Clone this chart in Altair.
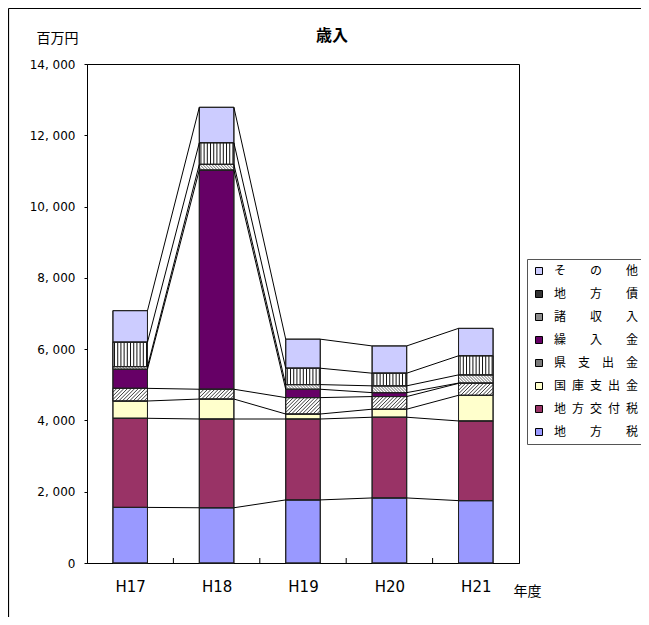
import altair as alt
import numpy as np
import pandas as pd

# ---- data (百万円) ----
chart_title = "歳入"
years = ["H17", "H18", "H19", "H20", "H21"]
series = ["地方税", "地方交付税", "国庫支出金", "県支出金", "繰入金", "諸収入", "地方債", "その他"]  # bottom -> top
chihozei = [1560, 1550, 1770, 1825, 1750]
kofuzei = [2500, 2490, 2270, 2265, 2235]
kokko = [485, 560, 140, 225, 720]
ken = [355, 275, 460, 355, 335]
kurire = [535, 6150, 235, 110, 8]
shoshu = [75, 160, 130, 190, 230]
chihosai = [685, 605, 460, 355, 535]
sonota = [885, 995, 815, 765, 770]
values = [chihozei, kofuzei, kokko, ken, kurire, shoshu, chihosai, sonota]

legend_order = ["その他", "地方債", "諸収入", "繰入金", "県支出金", "国庫支出金", "地方交付税", "地方税"]
legend_colors = ["#ccccff", "#333333", "#8c8c8c", "#660066", "#7a7a7a", "#ffffcc", "#993366", "#9999ff"]
S3 = "\u3000\u3000"
S4 = "\u3000"
S5 = "\u2002"
legend_text = ["そ" + S3 + "の" + S3 + "他", "地" + S3 + "方" + S3 + "債", "諸" + S3 + "収" + S3 + "入",
               "繰" + S3 + "入" + S3 + "金", "県" + S4 + "支" + S4 + "出" + S4 + "金",
               "国" + S5 + "庫" + S5 + "支" + S5 + "出" + S5 + "金",
               "地" + S5 + "方" + S5 + "交" + S5 + "付" + S5 + "税", "地" + S3 + "方" + S3 + "税"]
hatch_kind = {"県支出金": "/", "諸収入": "\\", "地方債": "|"}

W, H = 432, 499
YMAX = 14000
HALF = 0.2
kx = W / 5.0
ky = H / YMAX

# ---- stacked table ----
rows = []
cum = np.zeros(len(years))
for s, vals in zip(series, values):
    v = np.array(vals, dtype=float)
    for i, y in enumerate(years):
        rows.append(dict(series=s, year=y, i=i, value=v[i], y0=cum[i], y1=cum[i] + v[i],
                         x0=i - HALF, x1=i + HALF))
    cum = cum + v
bars = pd.DataFrame(rows)

# connecting lines between bars
links = []
for s in series:
    sub = bars[bars.series == s].sort_values("i")
    tops = sub.y1.tolist()
    for i in range(len(years) - 1):
        links.append(dict(series=s, xa=i + HALF, xb=i + 1 - HALF, ya=tops[i], yb=tops[i + 1]))
links = pd.DataFrame(links)

# hatch segments
hatch_style = {"|": (3.2, 1.0, "#111111"), "/": (3.6, 0.9, "#222222"), "\\": (3.0, 0.8, "#444444")}
segs = []
for _, r in bars[bars.series.isin(list(hatch_kind))].iterrows():
    kind = hatch_kind[r.series]
    step = hatch_style[kind][0]
    px0, px1, py0, py1 = r.x0 * kx, r.x1 * kx, r.y0 * ky, r.y1 * ky
    if kind == "|":
        for px in np.arange(px0 + step / 2, px1, step):
            segs.append(dict(kind=kind, xa=px, ya=py0, xb=px, yb=py1))
    elif kind == "/":
        for c in np.arange(py0 - px1, py1 - px0, step):
            a, b = max(px0, py0 - c), min(px1, py1 - c)
            if b > a:
                segs.append(dict(kind=kind, xa=a, ya=a + c, xb=b, yb=b + c))
    else:
        for c in np.arange(px0 + py0, px1 + py1, step):
            a, b = max(px0, c - py1), min(px1, c - py0)
            if b > a:
                segs.append(dict(kind=kind, xa=a, ya=c - a, xb=b, yb=c - b))
segs = pd.DataFrame(segs)
segs["xa"] /= kx
segs["xb"] /= kx
segs["ya"] /= ky
segs["yb"] /= ky

xscale = alt.Scale(domain=[-0.5, 4.5], nice=False, zero=False)
yscale = alt.Scale(domain=[0, YMAX], nice=False)

year_expr = "[" + ",".join("'%s'" % y for y in years) + "][datum.value]"
lab_expr = ("[" + ",".join("'%s'" % t for t in legend_text) + "][indexof(["
            + ",".join("'%s'" % s for s in legend_order) + "], datum.label)]")

xaxis = alt.Axis(values=list(range(len(years))), labelExpr=year_expr, ticks=False, tickSize=0,
                 labelPadding=16, labelFontSize=15, labelFont="DejaVu Sans", labelColor="black",
                 title="年度", titleX=440, titleY=28, titleAlign="center", titleBaseline="middle",
                 titleFontSize=14, titleFontWeight="normal", titleFont="Noto Sans CJK JP",
                 titleColor="black", domainColor="black", grid=False)
yaxis = alt.Axis(values=list(range(0, YMAX + 1, 2000)),
                 labelExpr="replace(format(datum.value, ','), ',', ', ')",
                 tickSize=3, tickColor="black", labelPadding=9, labelFontSize=12,
                 labelFont="DejaVu Sans", labelColor="black",
                 title="百万円", titleAngle=0, titleX=-30, titleY=-26, titleAlign="center",
                 titleBaseline="middle", titleFontSize=14, titleFontWeight="normal",
                 titleFont="Noto Sans CJK JP", titleColor="black", domainColor="black", grid=False)

one = pd.DataFrame({"k": [0]})
frame_top = alt.Chart(one).mark_rule(color="black", strokeWidth=1.2).encode(
    x=alt.value(-78.5), x2=alt.value(900), y=alt.value(-55.5))
frame_left = alt.Chart(one).mark_rule(color="black", strokeWidth=1.2).encode(
    x=alt.value(-78.5), y=alt.value(-55.5), y2=alt.value(900))
title_mark = alt.Chart(pd.DataFrame({"t": [chart_title]})).mark_text(
    font="Noto Sans CJK JP", fontSize=16, fontWeight="bold", color="black",
    align="center", baseline="middle"
).encode(text="t:N", x=alt.value(245), y=alt.value(-28))

base = alt.Chart(bars).mark_rect(stroke="#222222", strokeWidth=1).encode(
    x=alt.X("x0:Q", scale=xscale, axis=xaxis),
    x2="x1:Q",
    y=alt.Y("y0:Q", scale=yscale, axis=yaxis),
    y2="y1:Q",
    color=alt.Color("series:N", scale=alt.Scale(domain=legend_order, range=legend_colors),
                    legend=alt.Legend(title=None, orient="none", legendX=440, legendY=195,
                                      strokeColor="#555555", fillColor="white", padding=6,
                                      symbolType="square", symbolSize=49,
                                      symbolStrokeColor="black", symbolStrokeWidth=1,
                                      labelFontSize=12, labelFont="Noto Sans CJK JP",
                                      labelColor="black", labelOffset=9, rowPadding=11,
                                      labelExpr=lab_expr)),
)

white = alt.Chart(bars[bars.series.isin(list(hatch_kind))]).mark_rect(
    fill="white", stroke="#222222", strokeWidth=1
).encode(
    x=alt.X("x0:Q", scale=xscale), x2="x1:Q",
    y=alt.Y("y0:Q", scale=yscale), y2="y1:Q",
)

hatch_layers = []
for kind, (step, sw, col) in hatch_style.items():
    hatch_layers.append(
        alt.Chart(segs[segs.kind == kind]).mark_rule(strokeWidth=sw, color=col).encode(
            x=alt.X("xa:Q", scale=xscale), x2="xb:Q",
            y=alt.Y("ya:Q", scale=yscale), y2="yb:Q",
        )
    )

outline = alt.Chart(bars).mark_rect(fill="transparent", stroke="#222222", strokeWidth=1).encode(
    x=alt.X("x0:Q", scale=xscale), x2="x1:Q",
    y=alt.Y("y0:Q", scale=yscale), y2="y1:Q",
)

link_layer = alt.Chart(links).mark_rule(color="black", strokeWidth=1).encode(
    x=alt.X("xa:Q", scale=xscale), x2="xb:Q",
    y=alt.Y("ya:Q", scale=yscale), y2="yb:Q",
)

ticks = alt.Chart(pd.DataFrame({"b": [i + 0.5 for i in range(len(years) - 1)]})).mark_rule(
    color="black", strokeWidth=1
).encode(
    x=alt.X("b:Q", scale=xscale),
    y=alt.value(H), y2=alt.value(H - 5),
)

chart = alt.layer(base, white, *hatch_layers, outline, link_layer, ticks,
                  frame_top, frame_left, title_mark).properties(
    width=W, height=H,
    autosize=alt.AutoSizeParams(type="none"),
    padding={"left": 79, "top": 56, "right": 122, "bottom": 54},
).configure(background="white").configure_view(stroke="black", strokeWidth=1)

chart.save("out.html", embed_options={"renderer": "svg", "actions": False})
